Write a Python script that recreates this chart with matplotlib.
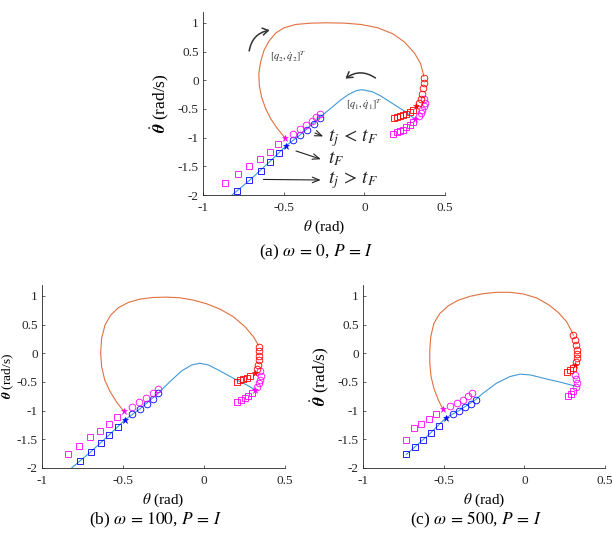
import numpy as np
import matplotlib
matplotlib.use("Agg")
import matplotlib.pyplot as plt
from matplotlib.patches import FancyArrowPatch

plt.rcParams['font.family'] = ['Liberation Serif', 'DejaVu Serif']
plt.rcParams['mathtext.fontset'] = 'stix'

# ---------------- data ----------------
# panel (a)  omega = 0
a_orange = np.array([(-0.492, -1.003), (-0.539, -0.841), (-0.581, -0.667), (-0.612, -0.493),
                     (-0.637, -0.29), (-0.651, -0.087), (-0.654, 0.116), (-0.643, 0.319),
                     (-0.622, 0.522), (-0.591, 0.684), (-0.55, 0.823), (-0.498, 0.916),
                     (-0.425, 0.974), (-0.332, 0.997), (-0.228, 1.003), (-0.124, 0.997),
                     (-0.021, 0.974), (0.083, 0.916), (0.176, 0.812), (0.249, 0.667),
                     (0.311, 0.475), (0.349, 0.29), (0.369, 0.07)])
a_blue = np.array([(-0.82, -2.0), (-0.712, -1.745), (-0.587, -1.42), (-0.485, -1.142),
                   (-0.398, -0.951), (-0.274, -0.64), (-0.2, -0.47), (-0.15, -0.35),
                   (-0.1, -0.25), (-0.05, -0.18), (-0.02, -0.165), (0.0, -0.17),
                   (0.05, -0.2), (0.1, -0.27), (0.15, -0.36), (0.2, -0.45),
                   (0.25, -0.54), (0.31, -0.667)])
a_blue_sq = np.array([(-0.788, -1.925), (-0.712, -1.745), (-0.643, -1.577), (-0.587, -1.42), (-0.529, -1.27)])
a_blue_ci = np.array([(-0.44, -1.043), (-0.398, -0.951), (-0.357, -0.864), (-0.315, -0.765), (-0.274, -0.661)])
a_blue_star = np.array([(-0.485, -1.142)])
a_mag_ci_l = np.array([(-0.44, -0.928), (-0.4, -0.846), (-0.363, -0.771), (-0.326, -0.701), (-0.301, -0.638), (-0.274, -0.58)])
a_mag_sq_l = np.array([(-0.535, -1.119), (-0.587, -1.252), (-0.647, -1.374), (-0.712, -1.496), (-0.784, -1.635), (-0.865, -1.791)])
a_mag_ci_r = np.array([(0.372, -0.33), (0.373, -0.39), (0.368, -0.45), (0.36, -0.51), (0.35, -0.57), (0.338, -0.62)])
a_mag_sq_r = np.array([(0.3, -0.73), (0.28, -0.78), (0.26, -0.82), (0.24, -0.86), (0.22, -0.89), (0.2, -0.91), (0.18, -0.93)])
a_mag_star = np.array([(-0.492, -1.003), (0.317, -0.667)])
a_red_ci = np.array([(0.369, 0.046), (0.367, -0.046), (0.363, -0.139), (0.357, -0.232), (0.349, -0.319), (0.336, -0.394)])
a_red_sq = np.array([(0.3, -0.51), (0.28, -0.55), (0.26, -0.58), (0.24, -0.61), (0.22, -0.63), (0.2, -0.645), (0.185, -0.655)])
a_red_star = np.array([(0.322, -0.452)])

# panel (b)  omega = 100
b_orange = np.array([(-0.494, -1.014), (-0.539, -0.852), (-0.58, -0.667), (-0.613, -0.464),
                     (-0.632, -0.232), (-0.638, 0.0), (-0.632, 0.261), (-0.611, 0.493),
                     (-0.576, 0.667), (-0.529, 0.794), (-0.467, 0.887), (-0.395, 0.945),
                     (-0.313, 0.974), (-0.23, 0.98), (-0.148, 0.968), (-0.066, 0.928),
                     (0.016, 0.864), (0.099, 0.771), (0.181, 0.638), (0.253, 0.464),
                     (0.305, 0.29), (0.335, 0.145)])
b_blue = np.array([(-0.817, -2.0), (-0.7, -1.72), (-0.584, -1.42), (-0.488, -1.16),
                   (-0.395, -0.968), (-0.282, -0.696), (-0.21, -0.493), (-0.138, -0.307),
                   (-0.076, -0.203), (-0.025, -0.174), (0.027, -0.203), (0.099, -0.307),
                   (0.181, -0.435), (0.263, -0.551), (0.315, -0.638)])
b_blue_sq = np.array([(-0.765, -1.88), (-0.7, -1.72), (-0.638, -1.565), (-0.584, -1.42), (-0.531, -1.287)])
b_blue_ci = np.array([(-0.442, -1.055), (-0.395, -0.968), (-0.354, -0.887), (-0.317, -0.794), (-0.282, -0.696)])
b_blue_star = np.array([(-0.488, -1.16)])
b_mag_ci_l = np.array([(-0.446, -0.939), (-0.399, -0.852), (-0.358, -0.771), (-0.317, -0.696), (-0.282, -0.62)])
b_mag_sq_l = np.array([(-0.535, -1.119), (-0.584, -1.229), (-0.642, -1.351), (-0.704, -1.467), (-0.77, -1.612), (-0.837, -1.757)])
b_mag_ci_r = np.array([(0.346, -0.307), (0.35, -0.388), (0.346, -0.464), (0.34, -0.522), (0.329, -0.58)])
b_mag_sq_r = np.array([(0.294, -0.696), (0.274, -0.736), (0.253, -0.771), (0.226, -0.812), (0.206, -0.841)])
b_mag_star = np.array([(-0.494, -1.014), (0.315, -0.638)])
b_red_ci = np.array([(0.337, 0.116), (0.34, 0.041), (0.34, -0.041), (0.338, -0.122), (0.335, -0.203), (0.33, -0.272)])
b_red_sq = np.array([(0.284, -0.394), (0.263, -0.423), (0.243, -0.446), (0.222, -0.47), (0.206, -0.493)])
b_red_star = np.array([(0.315, -0.348)])

# panel (c)  omega = 500
c_orange = np.array([(-0.503, -0.983), (-0.534, -0.809), (-0.561, -0.607), (-0.578, -0.405),
                     (-0.586, -0.173), (-0.586, 0.058), (-0.58, 0.289), (-0.561, 0.52),
                     (-0.524, 0.694), (-0.472, 0.827), (-0.41, 0.925), (-0.337, 0.994),
                     (-0.255, 1.04), (-0.172, 1.064), (-0.089, 1.064), (-0.006, 1.035),
                     (0.077, 0.965), (0.149, 0.85), (0.211, 0.711), (0.263, 0.549),
                     (0.294, 0.376), (0.304, 0.318)])
c_blue = np.array([(-0.731, -1.763), (-0.596, -1.428), (-0.487, -1.127), (-0.406, -1.0),
                   (-0.302, -0.809), (-0.255, -0.694), (-0.172, -0.52), (-0.089, -0.405),
                   (-0.027, -0.364), (0.035, -0.376), (0.118, -0.434), (0.222, -0.503),
                   (0.325, -0.578)])
c_blue_sq = np.array([(-0.731, -1.763), (-0.68, -1.63), (-0.63, -1.51), (-0.58, -1.39), (-0.53, -1.26)])
c_blue_ci = np.array([(-0.445, -1.058), (-0.406, -1.0), (-0.369, -0.936), (-0.333, -0.879), (-0.302, -0.809)])
c_blue_star = np.array([(-0.487, -1.127)])
c_mag_ci_l = np.array([(-0.462, -0.925), (-0.42, -0.867), (-0.383, -0.809), (-0.348, -0.751), (-0.323, -0.694)])
c_mag_sq_l = np.array([(-0.545, -1.06), (-0.59, -1.14), (-0.638, -1.231), (-0.685, -1.31), (-0.731, -1.503)])
c_mag_ci_r = np.array([(0.311, -0.376), (0.321, -0.445), (0.325, -0.52), (0.321, -0.595)])
c_mag_sq_r = np.array([(0.304, -0.665), (0.288, -0.711), (0.269, -0.751)])
c_mag_star = np.array([(-0.503, -0.971)])
c_red_ci = np.array([(0.304, 0.318), (0.315, 0.231), (0.321, 0.145), (0.325, 0.058), (0.325, -0.017), (0.325, -0.087), (0.321, -0.156)])
c_red_sq = np.array([(0.3, -0.249), (0.284, -0.283), (0.267, -0.318)])
c_red_star = np.array([(0.315, -0.202)])

xticks = [-1, -0.5, 0, 0.5]
xticklabels = ['-1', '-0.5', '0', '0.5']
yticks = [-2, -1.5, -1, -0.5, 0, 0.5, 1]
yticklabels = ['-2', '-1.5', '-1', '-0.5', '0', '0.5', '1']
captions = [r'(a) $\omega\, =\, 0$, $P\, =\, I$', r'(b) $\omega\, =\, 100$, $P\, =\, I$',
            r'(c) $\omega\, =\, 500$, $P\, =\, I$']

ORANGE = '#E0703F'
LBLUE = '#3F9AD6'
BLUE = '#0000FF'
MAG = '#FF00FF'
RED = '#FF0000'
W, H = 612, 533


def draw_panel(ax, orange, blue, blue_sq, blue_ci, blue_star, mag_ci_l, mag_sq_l,
               mag_ci_r, mag_sq_r, mag_star, red_ci, red_sq, red_star, ylab_x=-0.174, ylab_fs=12.5):
    ax.plot(orange[:, 0], orange[:, 1], color=ORANGE, lw=0.8)
    ax.plot(blue[:, 0], blue[:, 1], color=LBLUE, lw=0.8)
    ms_c, ms_s, mew = 4.8, 4.0, 0.6
    for pts, col, mk, ms in [(blue_sq, BLUE, 's', ms_s), (blue_ci, BLUE, 'o', ms_c),
                             (mag_ci_l, MAG, 'o', ms_c), (mag_sq_l, MAG, 's', ms_s),
                             (mag_ci_r, MAG, 'o', ms_c), (mag_sq_r, MAG, 's', ms_s),
                             (red_ci, RED, 'o', ms_c), (red_sq, RED, 's', ms_s)]:
        ax.plot(pts[:, 0], pts[:, 1], ls='none', marker=mk, ms=ms, mfc='none', mec=col, mew=mew)
    for pts, col in [(blue_star, BLUE), (mag_star, MAG), (red_star, RED)]:
        ax.plot(pts[:, 0], pts[:, 1], ls='none', marker='*', ms=5, color=col, mew=0.4)
    ax.set_xlim(-1, 0.5)
    ax.set_ylim(-2, 1.2)
    ax.set_xticks(xticks)
    ax.set_xticklabels(xticklabels)
    ax.set_yticks(yticks)
    ax.set_yticklabels(yticklabels)
    ax.tick_params(direction='in', length=2.5, width=0.5, labelsize=9.5, colors='#262626')
    ax.tick_params(axis='x', pad=5)
    ax.tick_params(axis='y', pad=3)
    for s in ['top', 'right']:
        ax.spines[s].set_visible(False)
    for s in ['left', 'bottom']:
        ax.spines[s].set_linewidth(0.6)
        ax.spines[s].set_color('#262626')
    ax.text(ylab_x, 0.5, r'$\dot{\boldsymbol{\theta}}$ (rad/s)', rotation=90, ha='center', va='center',
            transform=ax.transAxes, fontsize=ylab_fs)
    ax.text(0.5, -0.175, r'$\theta$ (rad)', ha='center', va='center', transform=ax.transAxes, fontsize=11)


fig = plt.figure(figsize=(W / 100, H / 100), dpi=100)
ax_a = fig.add_axes([203 / W, 1 - 195 / H, 242 / W, 183.5 / H])
ax_b = fig.add_axes([42 / W, 1 - 468 / H, 243 / W, 183.5 / H])
ax_c = fig.add_axes([363 / W, 1 - 468 / H, 242 / W, 183.5 / H])

draw_panel(ax_a, a_orange, a_blue, a_blue_sq, a_blue_ci, a_blue_star, a_mag_ci_l, a_mag_sq_l,
           a_mag_ci_r, a_mag_sq_r, a_mag_star, a_red_ci, a_red_sq, a_red_star)
draw_panel(ax_b, b_orange, b_blue, b_blue_sq, b_blue_ci, b_blue_star, b_mag_ci_l, b_mag_sq_l,
           b_mag_ci_r, b_mag_sq_r, b_mag_star, b_red_ci, b_red_sq, b_red_star, ylab_x=-0.14, ylab_fs=9.5)
draw_panel(ax_c, c_orange, c_blue, c_blue_sq, c_blue_ci, c_blue_star, c_mag_ci_l, c_mag_sq_l,
           c_mag_ci_r, c_mag_sq_r, c_mag_star, c_red_ci, c_red_sq, c_red_star)

# annotations in panel (a)
ax_a.add_patch(FancyArrowPatch((-0.716, 0.464), (-0.57, 0.881), connectionstyle='arc3,rad=-0.4',
                               arrowstyle='->,head_length=4,head_width=2.5', color='#333333', lw=1.1))
ax_a.add_patch(FancyArrowPatch((0.083, 0.012), (-0.131, 0.0), connectionstyle='arc3,rad=0.4',
                               arrowstyle='->,head_length=4,head_width=2.5', color='#333333', lw=1.1))
ax_a.text(-0.584, 0.42, r'$[q_2, \dot{q}_2]^T$', fontsize=7.5, color='#333333', va='center')
ax_a.text(-0.112, -0.43, r'$[q_1, \dot{q}_1]^T$', fontsize=7.5, color='#333333', va='center')
for (x0, y0), (x1, y1), lab, ty in [((-0.322, -0.9), (-0.239, -0.997), r'$t_j\, <\, t_F$', -1.0),
                                    ((-0.44, -1.217), (-0.253, -1.391), r'$t_F$', -1.37),
                                    ((-0.643, -1.728), (-0.253, -1.739), r'$t_j\, >\, t_F$', -1.74)]:
    ax_a.annotate('', xy=(x1, y1), xytext=(x0, y0),
                  arrowprops=dict(arrowstyle='->,head_length=0.5,head_width=0.2', color='#222222', lw=0.8))
    ax_a.text(-0.224, ty, lab, fontsize=14, va='center', ha='left', color='#222222')

fig.text(316 / W, 1 - 252 / H, captions[0], ha='center', va='center', fontsize=12.5)
fig.text(155 / W, 1 - 520 / H, captions[1], ha='center', va='center', fontsize=12.5)
fig.text(476 / W, 1 - 520 / H, captions[2], ha='center', va='center', fontsize=12.5)

fig.savefig('out.png', dpi=100)
